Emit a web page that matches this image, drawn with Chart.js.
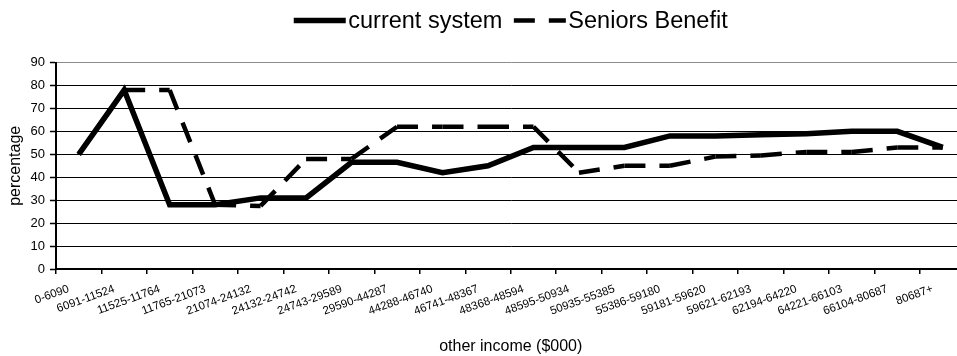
<!DOCTYPE html>
<html>
<head>
<meta charset="utf-8">
<script src="https://cdn.jsdelivr.net/npm/chart.js@4/dist/chart.umd.min.js"></script>
<style>
  html, body { margin: 0; padding: 0; background: #fff; overflow: hidden; }
  #wrap { width: 957px; height: 356px; overflow: hidden; position: relative; }
  canvas { display: block; }
</style>
</head>
<body>
<div id="wrap"><canvas id="chart" width="1021" height="356"></canvas></div>
<script>
// Income bands (other income, $000)
const incomeBands = [
  '0-6090', '6091-11524', '11525-11764', '11765-21073', '21074-24132',
  '24132-24742', '24743-29589', '29590-44287', '44288-46740', '46741-48367',
  '48368-48594', '48595-50934', '50935-55385', '55386-59180', '59181-59620',
  '59621-62193', '62194-64220', '64221-66103', '66104-80687', '80687+'
];

// Percentage under each scheme
const currentSystem = [50, 78, 28, 28, 31, 31, 46.5, 46.5, 42, 45, 53, 53, 53, 58, 58, 58.5, 59, 60, 60, 53];
const seniorsBenefit = [50, 78, 78, 28, 27.5, 48, 48, 62, 62, 62, 62, 42, 45, 45, 49, 49.5, 51, 51, 53, 53];

const yTicks = [0, 10, 20, 30, 40, 50, 60, 70, 80, 90];

const FONT = '"Liberation Sans", Arial, sans-serif';

// Legend: a line sample followed directly by its label, centred over the plot
const lineLegend = {
  id: 'lineLegend',
  afterDraw(chart, args, opts) {
    const { ctx, chartArea } = chart;
    ctx.save();
    ctx.font = `${opts.fontSize}px ${FONT}`;
    const items = chart.data.datasets.map((ds) => ({
      ds,
      textWidth: ctx.measureText(ds.label).width
    }));
    const total = items.reduce((s, it) => s + opts.sampleWidth + opts.textGap + it.textWidth, 0)
      + opts.itemGap * (items.length - 1);
    let x = (chartArea.left + chartArea.right) / 2 - total / 2;
    const y = opts.y;
    items.forEach((it) => {
      ctx.beginPath();
      ctx.strokeStyle = it.ds.borderColor;
      ctx.lineWidth = it.ds.borderWidth;
      ctx.lineCap = 'butt';
      ctx.setLineDash(it.ds.borderDash || []);
      ctx.moveTo(x, y);
      ctx.lineTo(x + opts.sampleWidth, y);
      ctx.stroke();
      ctx.setLineDash([]);
      x += opts.sampleWidth + opts.textGap;
      ctx.fillStyle = '#000';
      ctx.textAlign = 'left';
      ctx.textBaseline = 'middle';
      ctx.fillText(it.ds.label, x, y + 1);
      x += it.textWidth + opts.itemGap;
    });
    ctx.restore();
  }
};

new Chart(document.getElementById('chart'), {
  type: 'line',
  data: {
    labels: incomeBands,
    datasets: [
      {
        label: 'current system',
        data: currentSystem,
        borderColor: '#000',
        backgroundColor: '#000',
        borderWidth: 5.5,
        pointRadius: 0,
        tension: 0,
        borderJoinStyle: 'miter'
      },
      {
        label: 'Seniors Benefit',
        data: seniorsBenefit,
        borderColor: '#000',
        backgroundColor: '#000',
        borderWidth: 4.5,
        borderDash: [21, 14],
        pointRadius: 0,
        tension: 0,
        // restart the dash pattern at every data point
        segment: {
          borderDashOffset: (ctx) => (ctx.p0DataIndex % 2) * 0.001
        }
      }
    ]
  },
  options: {
    responsive: false,
    animation: false,
    layout: { padding: { left: 0, right: 55.5, top: 62.5, bottom: 0 } },
    plugins: {
      tooltip: { enabled: false },
      legend: { display: false },
      lineLegend: { fontSize: 23.5, sampleWidth: 52, textGap: 2.5, itemGap: 11.5, y: 20.5 }
    },
    scales: {
      x: {
        type: 'category',
        offset: true,
        grid: {
          offset: true,
          drawOnChartArea: false,
          drawTicks: true,
          tickLength: 5,
          color: '#000',
          lineWidth: 1.5
        },
        border: { color: '#000', width: 2 },
        ticks: {
          color: '#000',
          font: { family: FONT, size: 11.5 },
          minRotation: 20,
          maxRotation: 20,
          autoSkip: false,
          padding: 8,
          labelOffset: -10
        },
        title: {
          display: true,
          text: 'other income ($000)',
          color: '#000',
          font: { family: FONT, size: 16 },
          padding: { top: 10.6, bottom: 0 }
        }
      },
      y: {
        min: 0,
        max: 90,
        afterBuildTicks: (axis) => { axis.ticks = yTicks.map(v => ({ value: v })); },
        grid: {
          color: (ctx) => ctx.tick && ctx.tick.value === 90 ? '#8c8c8c' : '#000',
          lineWidth: 1,
          tickLength: 6,
          tickColor: '#000',
          tickWidth: 1.5,
          drawTicks: true
        },
        border: { color: '#000', width: 2 },
        ticks: {
          color: '#000',
          font: { family: FONT, size: 13 },
          padding: 5
        },
        title: {
          display: true,
          text: 'percentage',
          color: '#000',
          font: { family: FONT, size: 16 },
          padding: { top: 6.3, bottom: 0 }
        }
      }
    }
  },
  plugins: [lineLegend]
});
</script>
</body>
</html>
